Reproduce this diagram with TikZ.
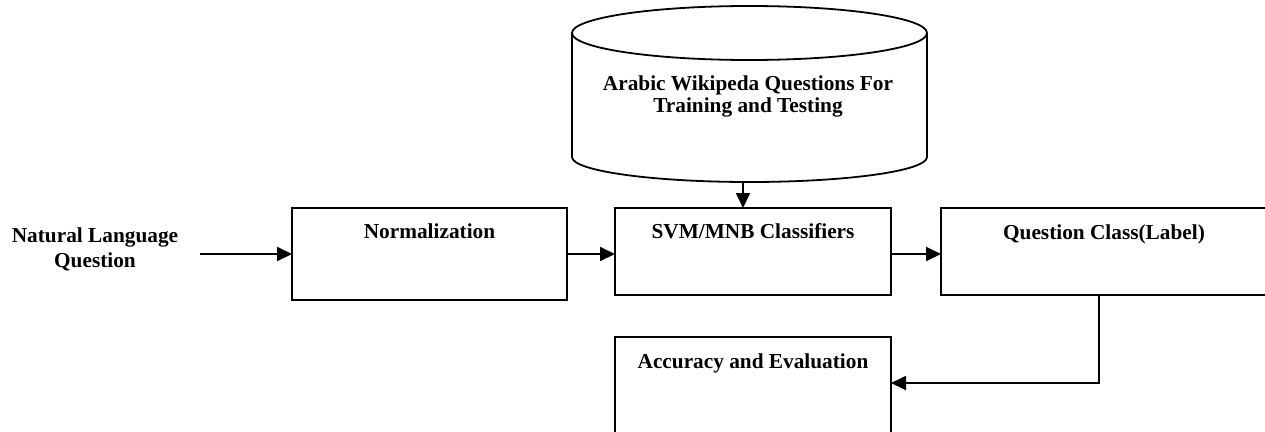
\documentclass[tikz,border=0pt]{standalone}
\usepackage{fontspec}
\setmainfont{Liberation Serif}
\usetikzlibrary{arrows.meta,calc}
\begin{document}
\begin{tikzpicture}[x=1pt,y=-1pt,
  ln/.style={line width=1.8pt},
  boxn/.style={draw,line width=1.8pt,rectangle,inner sep=0pt,outer sep=0pt,anchor=north west},
  lbl/.style={font=\fontsize{21.3}{25}\selectfont\bfseries,inner sep=0pt,align=center},
  arr/.style={line width=1.8pt,-{Triangle[length=15pt,width=14pt]}}]
\useasboundingbox (0,0) rectangle (1265,431);
% boxes
\node[boxn,minimum width=275pt,minimum height=92pt] (norm) at (292,208) {};
\node[boxn,minimum width=276pt,minimum height=87pt] (svm) at (615,208) {};
\node[boxn,minimum width=326pt,minimum height=87pt] (qc) at (941,208) {};
\node[boxn,minimum width=276pt,minimum height=104pt] (acc) at (615,337) {};
% cylinder
\node[rectangle,inner sep=0pt,outer sep=0pt,minimum width=355pt,minimum height=124pt] (db) at (749.5,95) {};
\draw[ln] (db.north west) -- (db.south west)
  arc[start angle=180,end angle=360,x radius=177.5pt,y radius=25pt]
  -- (db.north east);
\draw[ln] (db.north) ellipse [x radius=177.5pt,y radius=27pt];
% labels
\node[lbl,font=\fontsize{21.3}{21.5}\selectfont\bfseries] (dbt) at (748,96.5) {Arabic Wikipeda Questions For\\Training and Testing};
\node[lbl,anchor=base] (normt) at ($(norm.north)+(0,30)$) {Normalization};
\node[lbl,anchor=base] (svmt) at ($(svm.north)+(0,30)$) {SVM/MNB Classifiers};
\node[lbl,anchor=base] (qct) at ($(qc.north)+(0,31)$) {Question Class(Label)};
\node[lbl,anchor=base] (acct) at ($(acc.north)+(0,31)$) {Accuracy and Evaluation};
\node[lbl] (nlq) at (95,249.5) {Natural Language\\Question};
% connectors
\coordinate (nlqend) at (200,254);
\coordinate (dbout) at (743,182);
\coordinate (turn) at (1099,383);
\draw[arr] (nlqend) -- (nlqend -| norm.west);
\draw[arr] (norm.east |- nlqend) -- (svm.west |- nlqend);
\draw[arr] (svm.east |- nlqend) -- (qc.west |- nlqend);
\draw[arr] (dbout) -- (dbout |- svm.north);
\draw[arr] (turn |- qc.south) -- (turn) -- (turn -| acc.east);
\end{tikzpicture}
\end{document}
